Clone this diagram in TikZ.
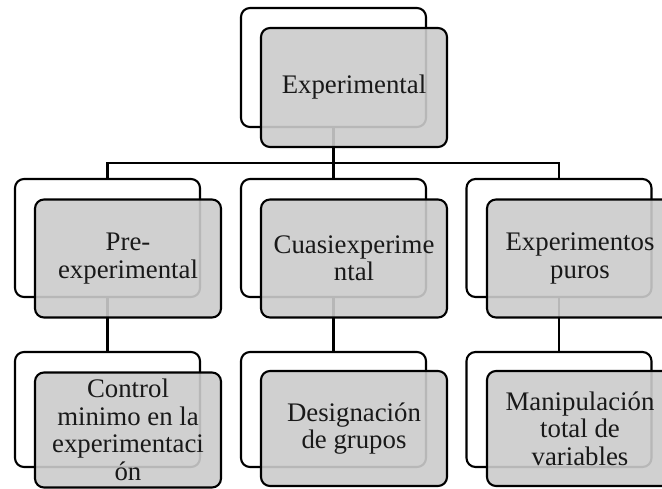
\documentclass[tikz,border=0pt]{standalone}
\usepackage{fontspec}
\setmainfont{Liberation Serif}
\definecolor{boxgray}{RGB}{203,203,203}
\tikzset{
  x=1pt, y=-1pt,
  backbox/.style={draw=black, line width=2.1pt, fill=white, rounded corners=9pt,
    minimum width=185pt, minimum height=118pt, inner sep=0pt},
  frontbox/.style={draw=black, line width=2.1pt, fill=boxgray, fill opacity=0.9,
    text opacity=1, rounded corners=9pt, minimum width=186pt, minimum height=118pt,
    inner sep=0pt, align=center, font=\fontsize{26.8}{27.5}\selectfont, text=black!90},
  link/.style={draw=black, line width=2.1pt}
}
\begin{document}
\begin{tikzpicture}
\useasboundingbox (0,0) rectangle (662,488);
\clip (0,0) rectangle (662,488);
\fill[white] (0,0) rectangle (662,488);

% back frames
\node[backbox, minimum height=119pt] (tb) at (333.5,67.5) {};
\node[backbox] (pb) at (107.5,238) {};
\node[backbox] (cb) at (333.5,238) {};
\node[backbox] (eb) at (559,238) {};
\node[backbox, minimum height=115pt] (pcb) at (107.5,409.5) {};
\node[backbox, minimum height=115pt] (ccb) at (333.5,409.5) {};
\node[backbox, minimum height=115pt] (ecb) at (559,409.5) {};

% connectors
\coordinate (bus) at (333.5,163);
\draw[link] (tb.south) -- (bus);
\draw[link] (bus) -| (pb.north);
\draw[link] (bus) -- (cb.north);
\draw[link] (bus) -| (eb.north);
\draw[link] (pb.south) -- (pcb.north);
\draw[link] (cb.south) -- (ccb.north);
\draw[link] (eb.south) -- (ecb.north);

% front cards
\node[frontbox, minimum height=119pt] (t) at (354,87.5) {Experimental};
\node[frontbox] (p) at (128,258.5) {Pre-\\experimental};
\node[frontbox] (c) at (354,258.5) {Cuasiexperime\\ntal};
\node[frontbox] (e) at (580,258.5) {Experimentos\\puros};
\node[frontbox, minimum height=115pt] (pc) at (128,430) {Control\\minimo en la\\experimentaci\\ón};
\node[frontbox, minimum height=115pt] (cc) at (354,428.5) {Designación\\de grupos};
\node[frontbox, minimum height=115pt] (ec) at (580,428.5) {Manipulación\\total de\\variables};
\end{tikzpicture}
\end{document}
